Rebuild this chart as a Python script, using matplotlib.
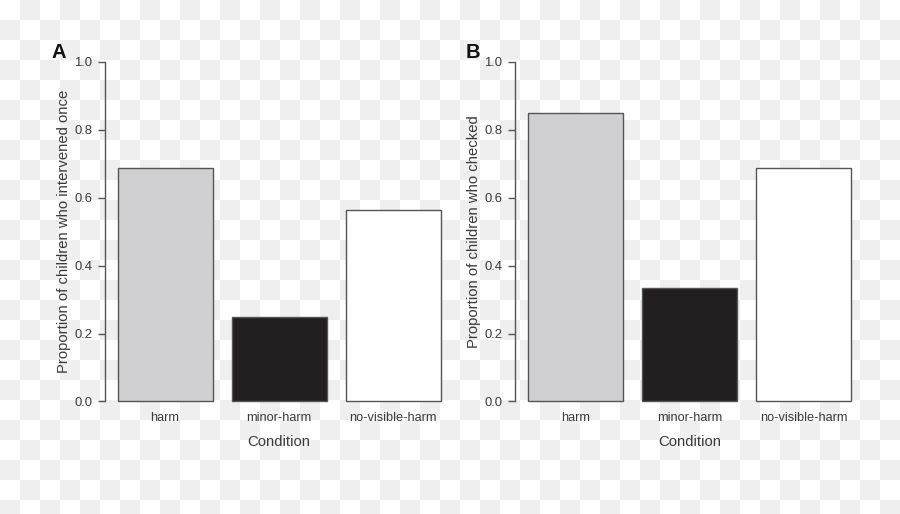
import numpy as np
import matplotlib
matplotlib.use("Agg")
import matplotlib.pyplot as plt
from matplotlib.colors import ListedColormap

plt.rcParams['font.family'] = ['Liberation Sans', 'DejaVu Sans']

conditions = ['harm', 'minor-harm', 'no-visible-harm']
intervened = [0.687, 0.248, 0.563]
checked = [0.849, 0.333, 0.687]
bar_colors = ['#d0d0d2', '#231f20', '#ffffff']

panels = [
    ('A', intervened, 'Proportion of children who intervened once'),
    ('B', checked, 'Proportion of children who checked'),
]

text_col = '#3a3a3a'
line_col = '#555555'

fig = plt.figure(figsize=(9, 5.14), dpi=100)

# checkerboard backdrop (transparent-png look)
bg = fig.add_axes([0, 0, 1, 1], zorder=-10)
ny, nx = 26, 45
checker = (np.add.outer(np.arange(ny), np.arange(nx)) % 2)
bg.imshow(checker, cmap=ListedColormap(['#ffffff', '#efefef']),
          extent=[0, nx * 20, ny * 20, 0], interpolation='nearest')
bg.set_xlim(0, 900)
bg.set_ylim(514, 0)
bg.axis('off')

lefts = [0.1163, 0.5722]
letter_x = [-0.151, -0.140]
pos = np.array([0.7, 1.9, 3.1])

for (letter, vals, ylab), left, lx in zip(panels, lefts, letter_x):
    ax = fig.add_axes([left, 0.1926, 0.3878, 0.7132])
    ax.patch.set_alpha(0)
    ax.bar(pos, vals, width=1.0, color=bar_colors, edgecolor=line_col, linewidth=1.0)
    ax.set_xlim(0.064, 3.736)
    ax.set_ylim(-0.04, 1.04)
    for s in ['top', 'right', 'bottom']:
        ax.spines[s].set_visible(False)
    ax.spines['left'].set_bounds(0, 1)
    ax.spines['left'].set_color(line_col)
    ax.spines['left'].set_linewidth(1.0)
    ax.set_yticks([0, 0.2, 0.4, 0.6, 0.8, 1.0])
    ax.set_yticklabels(['0.0', '0.2', '0.4', '0.6', '0.8', '1.0'])
    ax.tick_params(axis='y', direction='out', length=5, width=1.0, color=line_col,
                   labelsize=9.4, labelcolor=text_col, pad=4)
    ax.set_xticks(pos)
    ax.set_xticklabels(conditions)
    ax.tick_params(axis='x', length=0, labelsize=9.2, labelcolor=text_col, pad=-2.4)
    ax.set_xlabel('Condition', fontsize=10.7, color=text_col, labelpad=8)
    ax.set_ylabel(ylab, fontsize=10.7, color=text_col, labelpad=2.2)
    ax.text(lx, 0.99, letter, transform=ax.transAxes, fontsize=14.5,
            fontweight='bold', color='#111111', ha='left', va='center')

fig.savefig('out.png', dpi=100)
